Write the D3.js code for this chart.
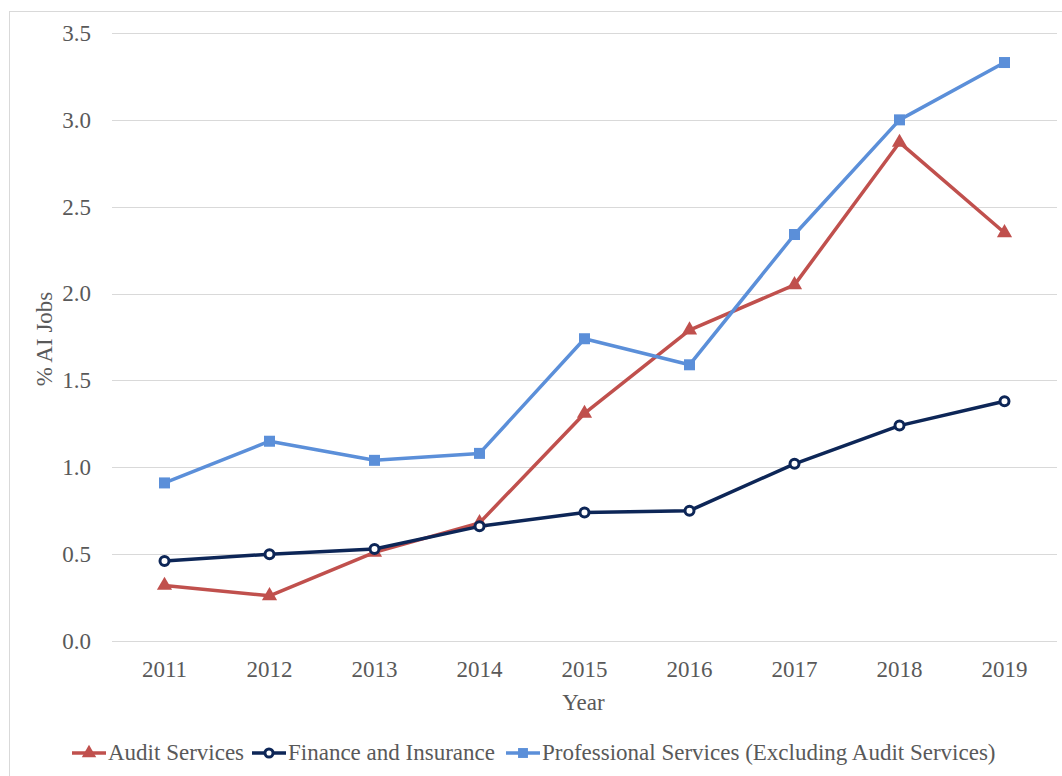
<!DOCTYPE html>
<html>
<head>
<meta charset="utf-8">
<script src="https://cdn.jsdelivr.net/npm/d3@7"></script>
<style>
  html, body { margin: 0; padding: 0; background: #fff; }
  svg { display: block; }
  text { font-family: "Liberation Serif", "DejaVu Serif", serif; fill: #595959; }
</style>
</head>
<body>
<svg id="chart" width="1062" height="776"></svg>
<script>
const years = ["2011","2012","2013","2014","2015","2016","2017","2018","2019"];
const auditServices = [0.32, 0.26, 0.51, 0.68, 1.31, 1.79, 2.05, 2.87, 2.35];
const financeInsurance = [0.46, 0.50, 0.53, 0.66, 0.74, 0.75, 1.02, 1.24, 1.38];
const professionalServices = [0.91, 1.15, 1.04, 1.08, 1.74, 1.59, 2.34, 3.00, 3.33];
const yTicks = [0.0, 0.5, 1.0, 1.5, 2.0, 2.5, 3.0, 3.5];
const seriesNames = ["Audit Services", "Finance and Insurance", "Professional Services (Excluding Audit Services)"];

const series = [
  { name: seriesNames[0], values: auditServices, color: "#c0504d", marker: "triangle" },
  { name: seriesNames[1], values: financeInsurance, color: "#0d2657", marker: "circle" },
  { name: seriesNames[2], values: professionalServices, color: "#5b8fd9", marker: "square" }
];

const svg = d3.select("#chart");
const W = 1062, H = 776;
const FS = 23;

// outer border (partial, like the reference crop)
svg.append("rect").attr("x", 9.5).attr("y", 11.5).attr("width", W + 10).attr("height", H + 10)
  .attr("fill", "none").attr("stroke", "#d9d9d9").attr("stroke-width", 1);

const plotLeft = 112, plotRight = 1057, plotTop = 33, plotBottom = 641;
const x = d3.scaleBand().domain(years).range([plotLeft, plotRight]);
const y = d3.scaleLinear().domain([0, 3.5]).range([plotBottom, plotTop]);

// gridlines
svg.append("g").selectAll("line").data(yTicks).join("line")
  .attr("x1", plotLeft).attr("x2", plotRight)
  .attr("y1", d => Math.round(y(d)) + 0.5).attr("y2", d => Math.round(y(d)) + 0.5)
  .attr("stroke", "#d9d9d9").attr("stroke-width", 1);

// y axis labels
const yAxis = d3.axisLeft(y).tickValues(yTicks).tickFormat(d3.format(".1f")).tickSize(0).tickPadding(0);
const gy = svg.append("g").attr("transform", `translate(91,0)`).call(yAxis);
gy.select(".domain").remove();
gy.selectAll("text").attr("font-size", FS).attr("fill", "#595959")
  .style("font-family", '"Liberation Serif", serif');

// x axis labels
const xAxis = d3.axisBottom(x).tickSize(0).tickPadding(0);
const gx = svg.append("g").attr("transform", `translate(0,${plotBottom + 20})`).call(xAxis);
gx.select(".domain").remove();
gx.selectAll("text").attr("font-size", FS).attr("fill", "#595959")
  .style("font-family", '"Liberation Serif", serif');

// axis titles
svg.append("text").attr("x", (plotLeft + plotRight) / 2 - 1).attr("y", 710).attr("text-anchor", "middle")
  .attr("font-size", FS).text("Year");
svg.append("text").attr("transform", `translate(52,339) rotate(-90)`).attr("text-anchor", "middle")
  .attr("font-size", FS).text("% AI Jobs");

// lines
const line = d3.line().x((d, i) => x(years[i]) + x.bandwidth() / 2).y(d => y(d));

function drawMarker(g, type, color, cx, cy, scale) {
  const s = scale || 1;
  if (type === "triangle") {
    g.append("path").attr("d", d3.symbol().type(d3.symbolTriangle).size(100 * s)())
      .attr("transform", `translate(${cx},${cy})`).attr("fill", color);
  } else if (type === "circle") {
    g.append("circle").attr("cx", cx).attr("cy", cy).attr("r", 4.5 * s)
      .attr("fill", "#fff").attr("stroke", color).attr("stroke-width", 3);
  } else {
    g.append("rect").attr("x", cx - 5.5 * s).attr("y", cy - 5.5 * s).attr("width", 11 * s).attr("height", 11 * s)
      .attr("fill", color);
  }
}

series.forEach(s => {
  const g = svg.append("g");
  g.append("path").datum(s.values).attr("d", line)
    .attr("fill", "none").attr("stroke", s.color).attr("stroke-width", 3.5)
    .attr("stroke-linejoin", "round");
  s.values.forEach((v, i) => {
    drawMarker(g, s.marker, s.color, x(years[i]) + x.bandwidth() / 2, y(v));
  });
});

// legend
const legend = svg.append("g");
const legY = 753;
const legendStarts = [72, 252, 506];
series.forEach((s, i) => {
  const lx = legendStarts[i];
  const g = legend.append("g");
  g.append("line").attr("x1", lx).attr("x2", lx + 34).attr("y1", legY).attr("y2", legY)
    .attr("stroke", s.color).attr("stroke-width", 3.5);
  drawMarker(g, s.marker, s.color, lx + 17, legY, 0.9);
  g.append("text").attr("x", lx + 36).attr("y", legY + 7).attr("font-size", 23).text(s.name);
});
</script>
</body>
</html>
